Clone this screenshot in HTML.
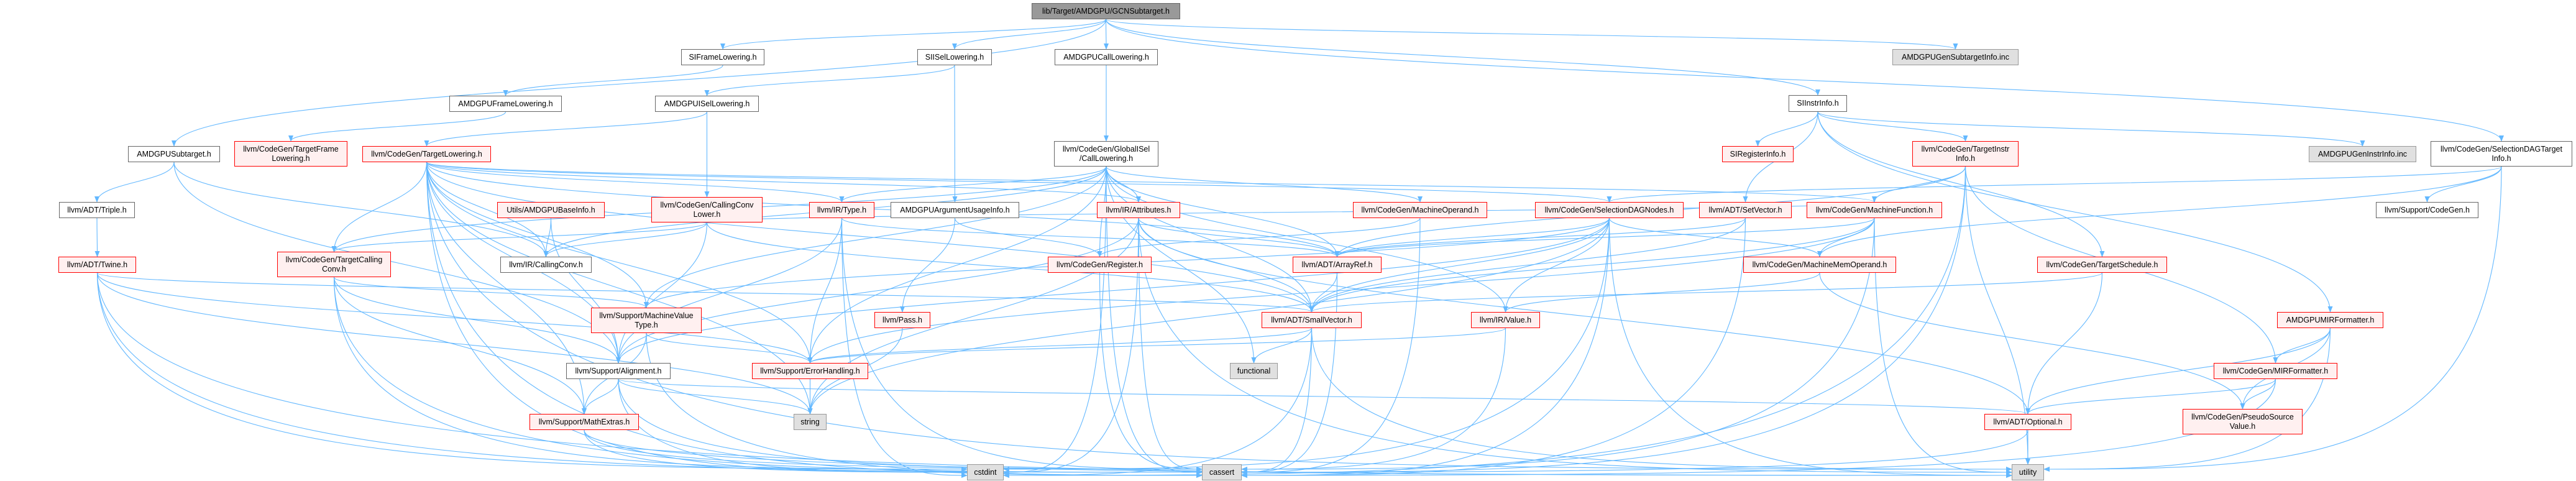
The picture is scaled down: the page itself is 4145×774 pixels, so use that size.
<!DOCTYPE html>
<html><head><meta charset="utf-8">
<style>
html,body{margin:0;padding:0;background:#fff;}
body{width:4145px;height:774px;overflow:hidden;position:relative;font-family:"Liberation Sans",Arial,sans-serif;}
svg{position:absolute;left:0;top:0;}
.n{position:absolute;box-sizing:border-box;display:flex;align-items:center;justify-content:center;text-align:center;font-size:12.5px;line-height:15px;color:#000;white-space:nowrap;}
.w{background:#fff;border:1.3px solid #666;}
.r{background:#fff0f0;border:1.3px solid #f00;}
.g{background:#e0e0e0;border:1.3px solid #999;}
.root{background:#999;border:1.3px solid #666;}
</style></head><body>
<svg id="s" width="4145" height="774" viewBox="0 0 4145 774">
<defs><marker id="a" markerWidth="10" markerHeight="8" refX="9" refY="4" orient="auto" markerUnits="userSpaceOnUse"><path d="M0,0 L10,4 L0,8 z" fill="#63b8ff"/></marker></defs>
<g id="e" fill="none" stroke="#63b8ff" stroke-width="1.1"></g>
</svg>
<div id="nodes"></div>
<script>
var N={
GCN:[1660,5,239,26,'root','lib/Target/AMDGPU/GCNSubtarget.h'],
SIFL:[1096,79,134,26,'w','SIFrameLowering.h'],
SIISL:[1476,79,120,26,'w','SIISelLowering.h'],
ACL:[1697,79,166,26,'w','AMDGPUCallLowering.h'],
GSI:[3045,79,203,26,'g','AMDGPUGenSubtargetInfo.inc'],
AFL:[723,154,181,26,'w','AMDGPUFrameLowering.h'],
AISL:[1054,154,167,26,'w','AMDGPUISelLowering.h'],
SII:[2878,153,94,27,'w','SIInstrInfo.h'],
AST:[206,235,148,26,'w','AMDGPUSubtarget.h'],
TFL:[377,227,182,41,'r','llvm/CodeGen/TargetFrame<br>Lowering.h'],
TL:[583,235,207,26,'r','llvm/CodeGen/TargetLowering.h'],
CL:[1696,227,168,41,'w','llvm/CodeGen/GlobalISel<br>/CallLowering.h'],
SRI:[2771,235,115,26,'r','SIRegisterInfo.h'],
TII:[3077,227,171,41,'r','llvm/CodeGen/TargetInstr<br>Info.h'],
GII:[3715,235,173,26,'g','AMDGPUGenInstrInfo.inc'],
SDTI:[3911,227,228,41,'w','llvm/CodeGen/SelectionDAGTarget<br>Info.h'],
TRI:[95,325,122,26,'w','llvm/ADT/Triple.h'],
ABI:[800,325,173,26,'r','Utils/AMDGPUBaseInfo.h'],
CCL:[1048,317,179,41,'r','llvm/CodeGen/CallingConv<br>Lower.h'],
TYP:[1302,325,105,26,'r','llvm/IR/Type.h'],
AUI:[1433,325,207,26,'w','AMDGPUArgumentUsageInfo.h'],
ATT:[1765,325,134,26,'r','llvm/IR/Attributes.h'],
MO:[2177,325,216,26,'r','llvm/CodeGen/MachineOperand.h'],
SDN:[2470,325,239,26,'r','llvm/CodeGen/SelectionDAGNodes.h'],
SV:[2734,325,149,26,'r','llvm/ADT/SetVector.h'],
MF:[2907,325,218,26,'r','llvm/CodeGen/MachineFunction.h'],
SCG:[3823,325,165,26,'w','llvm/Support/CodeGen.h'],
TW:[94,413,125,26,'r','llvm/ADT/Twine.h'],
TCC:[446,405,183,41,'r','llvm/CodeGen/TargetCalling<br>Conv.h'],
CC:[805,413,147,26,'w','llvm/IR/CallingConv.h'],
REG:[1686,413,167,26,'r','llvm/CodeGen/Register.h'],
AR:[2080,413,143,26,'r','llvm/ADT/ArrayRef.h'],
MMO:[2805,413,246,26,'r','llvm/CodeGen/MachineMemOperand.h'],
TS:[3278,413,209,26,'r','llvm/CodeGen/TargetSchedule.h'],
MVT:[951,495,178,41,'r','llvm/Support/MachineValue<br>Type.h'],
PASS:[1407,502,90,26,'r','llvm/Pass.h'],
SVEC:[2030,502,161,26,'r','llvm/ADT/SmallVector.h'],
VAL:[2367,502,111,26,'r','llvm/IR/Value.h'],
AMF:[3664,502,171,26,'r','AMDGPUMIRFormatter.h'],
AL:[911,584,168,26,'w','llvm/Support/Alignment.h'],
EH:[1210,584,187,26,'r','llvm/Support/ErrorHandling.h'],
FUN:[1979,584,77,26,'g','functional'],
MIRF:[3562,584,199,26,'r','llvm/CodeGen/MIRFormatter.h'],
PSV:[3512,658,193,41,'r','llvm/CodeGen/PseudoSource<br>Value.h'],
ME:[852,666,176,26,'r','llvm/Support/MathExtras.h'],
STR:[1277,666,53,26,'g','string'],
OPT:[3193,666,140,26,'r','llvm/ADT/Optional.h'],
CSI:[1556,747,59,26,'g','cstdint'],
CAS:[1934,747,64,26,'g','cassert'],
UT:[3237,747,52,26,'g','utility']
};
var E={
GCN:['SIFL','AST','SIISL','ACL','SII','SDTI','GSI'],
SIFL:['AFL'],AFL:['TFL'],SIISL:['AISL','AUI'],AISL:['TL','CCL'],ACL:['CL'],
AST:['TRI','CC','AL'],TRI:['TW'],TW:['SVEC','EH','STR','CSI','CAS','UT'],
TL:['TCC','CC','MVT','AL','EH','ME','TYP','ATT','AR','SVEC','SDN','MF','STR','CSI','CAS','UT'],
ABI:['CC','AL'],CCL:['TCC','CC','AL','SVEC','MF'],TYP:['EH','AL','CSI','CAS','AR'],
TCC:['MVT','AL','ME','CSI','CAS'],MVT:['EH','ME','CAS'],AL:['ME','STR','OPT','CAS','CSI'],
EH:['STR'],ME:['CAS','CSI','UT'],
CL:['TCC','CC','ATT','AR','SVEC','VAL','MO','MVT','EH','FUN','CSI','TYP','REG','CAS'],
AUI:['REG','PASS'],ATT:['AR','SVEC','AL','CAS','CSI','STR','OPT','UT'],
MO:['REG','CAS'],SDN:['AR','SVEC','VAL','MMO','MVT','CAS','CSI','STR','UT','AL'],
SV:['AR','SVEC','CAS'],REG:['CAS'],AR:['SVEC','CAS'],SVEC:['FUN','CAS','CSI','UT','EH'],
VAL:['CAS','EH'],PASS:['STR'],
SII:['SRI','SV','TII','TS','GII','AMF'],TII:['MF','AR','MIRF','UT','CAS','CSI'],
MF:['MMO','AR','SVEC','CAS','UT','EH'],MMO:['PSV','VAL'],TS:['OPT','SVEC'],
AMF:['MIRF','OPT','PSV','UT'],MIRF:['OPT','PSV','CAS'],SDTI:['SCG','MMO','SDN','UT'],OPT:['UT','CAS']
};
var side={CSI:1,CAS:1,UT:1};
var h='';
for(var k in N){var n=N[k];h+='<div class="n '+n[4]+'" style="left:'+n[0]+'px;top:'+n[1]+'px;width:'+n[2]+'px;height:'+n[3]+'px">'+n[5]+'</div>';}
document.getElementById('nodes').innerHTML=h;
var p='';
for(var s in E){var a=N[s];E[s].forEach(function(t,i){var b=N[t];
var sx=a[0]+a[2]/2,sy=a[1]+a[3];var tx=b[0]+b[2]/2,ty=b[1];
if(side[t]&&Math.abs(sx-tx)>120){
 var left=sx<tx; tx=left?b[0]:b[0]+b[2]; ty=b[1]+8+(i%3)*5;
 var dx=Math.abs(tx-sx);
 p+='<path d="M'+sx+','+sy+' C'+sx+','+(ty-10)+' '+(left?tx-dx*0.6:tx+dx*0.6)+','+ty+' '+tx+','+ty+'" marker-end="url(#a)"/>';
 return;}
if(Math.abs(b[1]-a[1])<5){sy=a[1]+a[3]/2;ty=b[1]+b[3]/2;tx=(tx>sx)?b[0]:b[0]+b[2];}
var dy=(ty-sy)*0.5;
p+='<path d="M'+sx+','+sy+' C'+sx+','+(sy+dy)+' '+tx+','+(ty-dy)+' '+tx+','+ty+'" marker-end="url(#a)"/>';});}
document.getElementById('e').innerHTML=p;
</script>
</body></html>
